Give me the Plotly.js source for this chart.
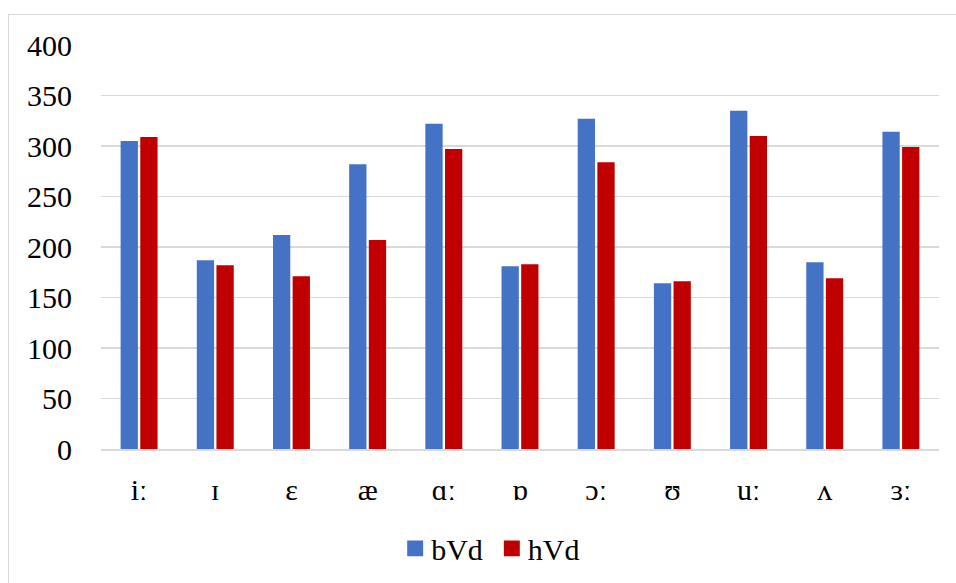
<!DOCTYPE html>
<html>
<head>
<meta charset="utf-8">
<script src="https://cdn.plot.ly/plotly-3.0.1.min.js"></script>
<style>
  html, body { margin: 0; padding: 0; background: #ffffff; }
  #wrap { position: relative; width: 956px; height: 583px; overflow: hidden; }
  #chart { width: 956px; height: 583px; }
  #frame { position: absolute; left: 8px; top: 14px; width: 1000px; height: 700px;
           border: 1px solid #d9d9d9; pointer-events: none; box-sizing: border-box; }
</style>
</head>
<body>
<div id="wrap">
  <div id="chart"></div>
  <div id="frame"></div>
</div>
<script>
const categories = ["iː", "ɪ", "ɛ", "æ", "ɑː", "ɒ", "ɔː", "ʊ", "uː", "ʌ", "ɜː"];
const bVd = [305, 187, 212, 282, 322, 181, 327, 164, 335, 185, 314];
const hVd = [309, 182, 171, 207, 297, 183, 284, 166, 310, 169, 299];
const yTicks = [0, 50, 100, 150, 200, 250, 300, 350, 400];

const serif = "Times New Roman, Liberation Serif, serif";

const traces = [
  { type: "bar", name: "bVd", x: categories, y: bVd,
    marker: { color: "#4472C4" } },
  { type: "bar", name: "hVd", x: categories, y: hVd,
    marker: { color: "#C00000" } }
];

const layout = {
  width: 956, height: 583,
  margin: { l: 101, r: 17, t: 45, b: 133.5, autoexpand: false },
  paper_bgcolor: "rgba(0,0,0,0)",
  plot_bgcolor: "#ffffff",
  barmode: "group",
  bargap: 0.484,
  bargroupgap: 0.12,
  showlegend: true,
  legend: {
    orientation: "h", x: 0.462, xanchor: "center", y: -0.246, yanchor: "middle",
    font: { family: serif, size: 30, color: "#000000" },
    itemsizing: "constant", traceorder: "normal", itemwidth: 30
  },
  xaxis: {
    type: "category", automargin: false,
    showgrid: false,
    showline: true, linecolor: "#d9d9d9", linewidth: 1.5,
    ticks: "", ticklabelstandoff: 13,
    tickfont: { family: serif, size: 30, color: "#000000" },
    zeroline: false
  },
  yaxis: {
    range: [0, 400], automargin: false,
    tickvals: yTicks,
    ticktext: yTicks.map(String),
    showgrid: true, gridcolor: "#d9d9d9", gridwidth: 1.5,
    showline: false, zeroline: false,
    ticks: "", ticklabelstandoff: 28,
    tickfont: { family: serif, size: 30, color: "#000000" }
  },
  font: { family: serif }
};

Plotly.newPlot("chart", traces, layout, { displayModeBar: false, staticPlot: true }).then(function (gd) {
  // enlarge the legend swatches to match the reference's bigger squares
  gd.querySelectorAll(".legend .legendpoints path").forEach(function (p) {
    p.setAttribute("transform", "translate(24,0) scale(1.33)");
  });
});
</script>
</body>
</html>
